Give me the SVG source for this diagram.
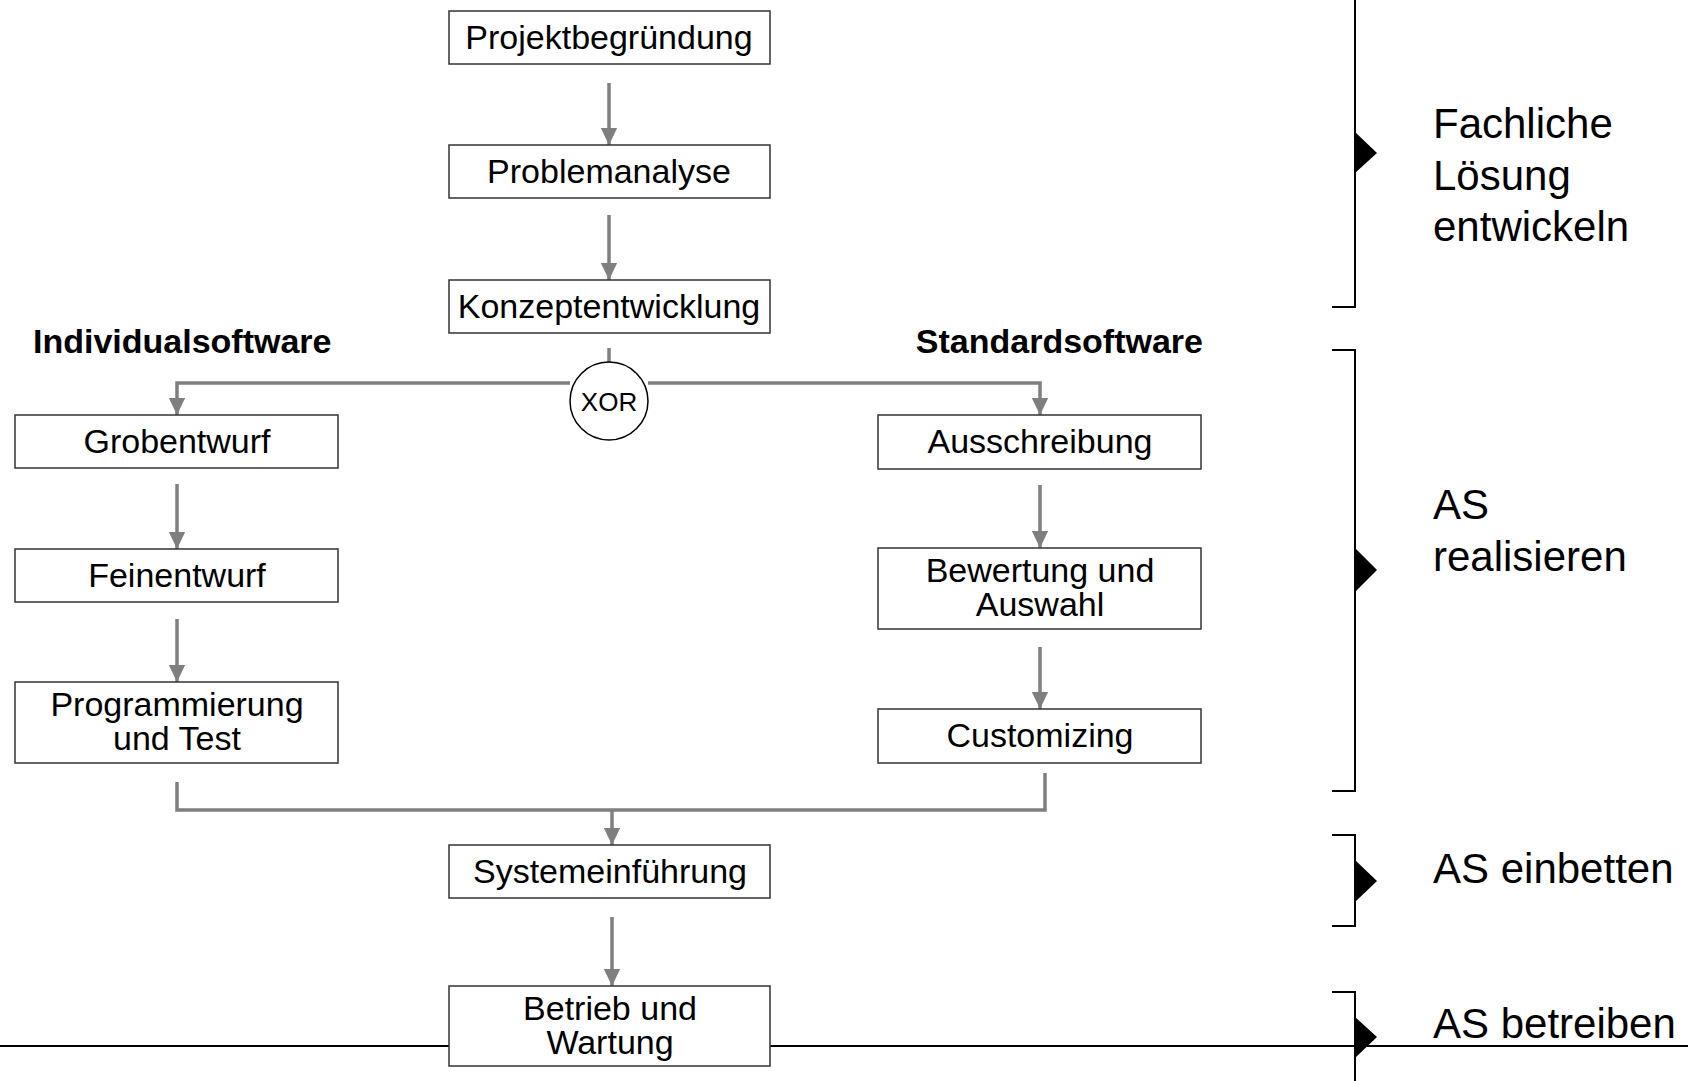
<svg xmlns="http://www.w3.org/2000/svg" width="1688" height="1081" viewBox="0 0 1688 1081">
<defs>
<marker id="ah" markerWidth="5" markerHeight="6" refX="5" refY="3" orient="auto" markerUnits="strokeWidth">
<path d="M0,0.6 L5,3 L0,5.4 Z" fill="#7f7f7f"/>
</marker>
<style>
.box{fill:#fff;stroke:#333;stroke-width:1.5}
.t{font-family:"Liberation Sans",Arial,sans-serif;font-size:34px;fill:#000;text-anchor:middle}
.h{font-family:"Liberation Sans",Arial,sans-serif;font-size:34px;font-weight:bold;fill:#000}
.lab{font-family:"Liberation Sans",Arial,sans-serif;font-size:42px;fill:#000}
.c{fill:none;stroke:#7f7f7f;stroke-width:3.5}
.ca{fill:none;stroke:#7f7f7f;stroke-width:3.5;marker-end:url(#ah)}
.br{fill:none;stroke:#000;stroke-width:2}
</style>
</defs>
<rect width="1688" height="1081" fill="#fff"/>

<g id="connectors">
<line class="ca" x1="609" y1="83" x2="609" y2="145"/>
<line class="ca" x1="609" y1="215" x2="609" y2="280"/>
<line class="c" x1="609" y1="348" x2="609" y2="362"/>
<path class="ca" d="M570,383 H177 V415"/>
<path class="ca" d="M648,383 H1040 V415"/>
<line class="ca" x1="177" y1="484" x2="177" y2="549"/>
<line class="ca" x1="177" y1="619" x2="177" y2="682"/>
<line class="ca" x1="1040" y1="485" x2="1040" y2="548"/>
<line class="ca" x1="1040" y1="647" x2="1040" y2="709"/>
<path class="c" d="M177,782 V810 H1045 V773"/>
<line class="ca" x1="612" y1="810" x2="612" y2="845"/>
<line class="ca" x1="612" y1="917" x2="612" y2="986"/>
</g>

<g id="phase-lines">
<line x1="0" y1="1046" x2="1688" y2="1046" stroke="#000" stroke-width="2"/>
<path class="br" d="M1355,0 V307 H1332"/>
<path d="M1355,132 L1377,153 L1355,173 Z" fill="#000"/>
<path class="br" d="M1332,350 H1355 V791 H1332"/>
<path d="M1355,548 L1377,570 L1355,592 Z" fill="#000"/>
<path class="br" d="M1332,835 H1355 V926 H1332"/>
<path d="M1355,860 L1377,881 L1355,902 Z" fill="#000"/>
<path class="br" d="M1332,992 H1355 V1081"/>
<path d="M1355,1017 L1377,1037 L1355,1058 Z" fill="#000"/>
</g>

<g id="n-projektbegruendung"><rect class="box" x="449" y="11" width="321" height="53"/><text class="t" x="609" y="49">Projektbegründung</text></g>
<g id="n-problemanalyse"><rect class="box" x="449" y="145" width="321" height="53"/><text class="t" x="609" y="183">Problemanalyse</text></g>
<g id="n-konzeptentwicklung"><rect class="box" x="449" y="280" width="321" height="53"/><text class="t" x="609" y="318">Konzeptentwicklung</text></g>

<g id="n-xor"><circle cx="609" cy="401" r="39" fill="#fff" stroke="#000" stroke-width="1.5"/><text x="609" y="410.5" font-family="Liberation Sans, Arial, sans-serif" font-size="26" text-anchor="middle">XOR</text></g>

<g id="l-individual"><text class="h" x="33" y="353">Individualsoftware</text></g>
<g id="l-standard"><text class="h" x="1203" y="353" text-anchor="end">Standardsoftware</text></g>

<g id="n-grobentwurf"><rect class="box" x="15" y="415" width="323" height="53"/><text class="t" x="177" y="453">Grobentwurf</text></g>
<g id="n-feinentwurf"><rect class="box" x="15" y="549" width="323" height="53"/><text class="t" x="177" y="587">Feinentwurf</text></g>
<g id="n-programmierung"><rect class="box" x="15" y="682" width="323" height="81"/><text class="t" x="177" y="716">Programmierung</text><text class="t" x="177" y="750">und Test</text></g>

<g id="n-ausschreibung"><rect class="box" x="878" y="415" width="323" height="54"/><text class="t" x="1040" y="453">Ausschreibung</text></g>
<g id="n-bewertung"><rect class="box" x="878" y="548" width="323" height="81"/><text class="t" x="1040" y="582">Bewertung und</text><text class="t" x="1040" y="616">Auswahl</text></g>
<g id="n-customizing"><rect class="box" x="878" y="709" width="323" height="54"/><text class="t" x="1040" y="747">Customizing</text></g>

<g id="n-systemeinfuehrung"><rect class="box" x="449" y="845" width="321" height="53"/><text class="t" x="610" y="883">Systemeinführung</text></g>
<g id="n-betrieb"><rect class="box" x="449" y="986" width="321" height="80"/><text class="t" x="610" y="1020">Betrieb und</text><text class="t" x="610" y="1054">Wartung</text></g>

<g id="phase-labels">
<text class="lab" x="1433" y="138">Fachliche</text>
<text class="lab" x="1433" y="190">Lösung</text>
<text class="lab" x="1433" y="241">entwickeln</text>
<text class="lab" x="1433" y="519">AS</text>
<text class="lab" x="1433" y="571">realisieren</text>
<text class="lab" x="1433" y="883">AS einbetten</text>
<text class="lab" x="1433" y="1038">AS betreiben</text>
</g>
</svg>
